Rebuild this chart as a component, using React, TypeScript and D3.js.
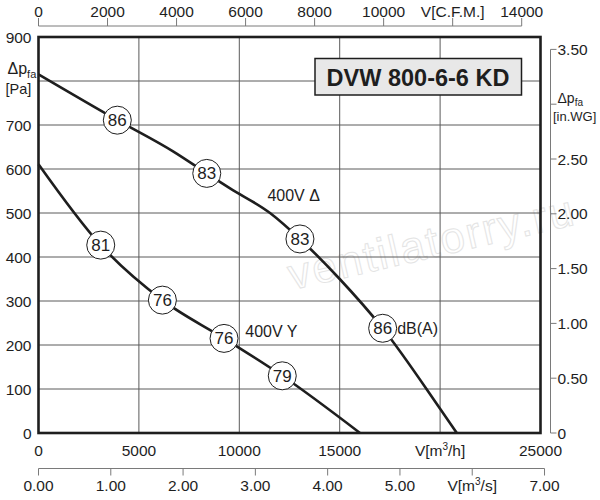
import React from 'react'
import * as d3 from 'd3'

// 400V Δ curve (m3/h, Pa)
const flowDelta = [0, 3925, 6700, 8380, 9540, 11530, 13020, 15000, 17140, 20000, 20830]
const pressDelta = [815, 711, 640, 590, 556, 500, 441, 350, 238, 55, 0]
// 400V Y curve
const flowStar = [0, 3100, 6170, 9240, 12140, 16010]
const pressStar = [611, 427, 302, 215, 130, 0]

// noise markers dB(A)
const markFlowDelta = [3925, 8380, 13020, 17140]
const markPressDelta = [711, 590, 441, 238]
const markDbDelta = [86, 83, 83, 86]
const markFlowStar = [3100, 6170, 9240, 12140]
const markPressStar = [427, 302, 215, 130]
const markDbStar = [81, 76, 76, 79]

const flowTicks = [0, 5000, 10000, 15000, 20000, 25000]
const flowLabels = ['0', '5000', '10000', '15000', 'V[m³/h]', '25000']
const paTicks = [0, 100, 200, 300, 400, 500, 600, 700, 800, 900]
const paLabels = ['0', '100', '200', '300', '400', '500', '600', '700', '', '900']
const cfmTicks = [0, 2000, 4000, 6000, 8000, 10000, 12000, 14000]
const cfmLabels = ['0', '2000', '4000', '6000', '8000', '10000', 'V[C.F.M.]', '14000']
const m3sTicks = [0, 1, 2, 3, 4, 5, 6, 7]
const m3sLabels = ['0.00', '1.00', '2.00', '3.00', '4.00', '5.00', 'V[m³/s]', '7.00']
const inwgTicks = [0, 0.5, 1, 1.5, 2, 2.5, 3, 3.5]
const inwgLabels = ['0', '0.50', '1.00', '1.50', '2.00', '2.50', '', '3.50']

const FONT = '"Liberation Sans", Arial, Helvetica, sans-serif'

export default function App() {
  const left = 38.5
  const top = 37
  const W = 502
  const H = 396

  const x = d3.scaleLinear().domain([0, 25000]).range([0, W])
  const y = d3.scaleLinear().domain([0, 900]).range([H, 0])
  const xCfm = d3.scaleLinear().domain([0, 14545]).range([0, W])
  const xM3s = d3.scaleLinear().domain([0, 25000 / 3600]).range([0, W])
  const yIn = d3.scaleLinear().domain([0, 900 / 249.09]).range([H, 0])

  const line = d3
    .line<[number, number]>()
    .x(d => x(d[0]))
    .y(d => y(d[1]))
    .curve(d3.curveMonotoneX)

  const deltaPath = line(flowDelta.map((f, i) => [f, pressDelta[i]])) ?? ''
  const starPath = line(flowStar.map((f, i) => [f, pressStar[i]])) ?? ''

  const markers = [
    ...markFlowDelta.map((f, i) => ({ f, p: markPressDelta[i], db: markDbDelta[i] })),
    ...markFlowStar.map((f, i) => ({ f, p: markPressStar[i], db: markDbStar[i] })),
  ]

  const gridCol = '#5a5a5a'
  const axisCol = '#7a7a7a'
  const ink = '#1e1e1e'

  return (
    <svg
      width={600}
      height={500}
      style={{ position: 'absolute', left: 0, top: 0, background: '#fff' }}
      fontFamily={FONT}
    >
      <rect width={600} height={500} fill="#fff" />

      {/* top CFM axis */}
      <g transform={`translate(${left},26)`}>
        <line x1={0} x2={xCfm(14000)} y1={0} y2={0} stroke={axisCol} strokeWidth={1} />
        {cfmTicks.map((t, i) => (
          <g key={t} transform={`translate(${xCfm(t)},0)`}>
            <line y1={0} y2={-8} stroke={axisCol} strokeWidth={1} />
            <text y={-9.5} textAnchor="middle" fontSize={15.5} fill={ink}>
              {cfmLabels[i]}
            </text>
          </g>
        ))}
      </g>

      {/* watermark */}
      <text
        transform="translate(292,290) rotate(-13)"
        fontSize={44}
        letterSpacing={2}
        fill="#fff"
        stroke="#e4e4e4"
        strokeWidth={1}
      >
        ventilatorry.ru
      </text>

      <g transform={`translate(${left},${top})`}>
        {/* grid */}
        {flowTicks.slice(1, -1).map(t => (
          <line key={t} x1={x(t)} x2={x(t)} y1={0} y2={H} stroke={gridCol} strokeWidth={1} />
        ))}
        {paTicks.slice(1, -1).map(t => (
          <line key={t} x1={0} x2={W} y1={y(t)} y2={y(t)} stroke={gridCol} strokeWidth={1} />
        ))}

        {/* curves */}
        <path d={deltaPath} fill="none" stroke={ink} strokeWidth={2.6} />
        <path d={starPath} fill="none" stroke={ink} strokeWidth={2.6} />

        {/* frame */}
        <rect x={0} y={0} width={W} height={H} fill="none" stroke={ink} strokeWidth={2.6} />

        {/* markers */}
        {markers.map((m, i) => (
          <g key={i} transform={`translate(${x(m.f)},${y(m.p)})`}>
            <circle r={14} fill="#fff" stroke={ink} strokeWidth={1} />
            <text y={6} textAnchor="middle" fontSize={17} fill={ink}>
              {m.db}
            </text>
          </g>
        ))}

        {/* curve labels */}
        <text x={x(11400)} y={y(518) - 4} fontSize={16} fill={ink}>
          400V Δ
        </text>
        <text x={x(10300)} y={y(225) + 3} fontSize={16} fill={ink}>
          400V Y
        </text>
        <text x={x(17140) + 14.5} y={y(238) + 6} fontSize={16} fill={ink}>
          dB(A)
        </text>

        {/* left axis labels */}
        {paTicks.map((t, i) => (
          <text key={t} x={-7} y={y(t) + 5.5} textAnchor="end" fontSize={15.5} fill={ink}>
            {paLabels[i]}
          </text>
        ))}
        <text x={-31} y={y(800) - 7} fontSize={16} fill={ink}>
          Δp
          <tspan fontSize={11} dy={4}>
            fa
          </tspan>
        </text>
        <text x={-33} y={y(800) + 13} fontSize={14.5} fill={ink}>
          [Pa]
        </text>

        {/* bottom m3/h labels */}
        {flowTicks.map((t, i) => (
          <text key={t} x={x(t)} y={H + 23} textAnchor="middle" fontSize={15.5} fill={ink}>
            {flowLabels[i].includes('³') ? (
              <>
                V[m<tspan fontSize={10} dy={-6}>3</tspan>
                <tspan dy={6}>/h]</tspan>
              </>
            ) : (
              flowLabels[i]
            )}
          </text>
        ))}
      </g>

      {/* bottom m3/s axis */}
      <g transform={`translate(${left},468.5)`}>
        <line x1={0} x2={xM3s(7)} y1={0} y2={0} stroke={axisCol} strokeWidth={1} />
        {m3sTicks.map((t, i) => (
          <g key={t} transform={`translate(${xM3s(t)},0)`}>
            <line y1={0} y2={7} stroke={axisCol} strokeWidth={1} />
            <text y={22} textAnchor="middle" fontSize={15.5} fill={ink}>
              {m3sLabels[i].includes('³') ? (
                <>
                  V[m<tspan fontSize={10} dy={-6}>3</tspan>
                  <tspan dy={6}>/s]</tspan>
                </>
              ) : (
                m3sLabels[i]
              )}
            </text>
          </g>
        ))}
      </g>

      {/* right in.WG axis */}
      <g transform={`translate(550.5,${top})`}>
        <line x1={0} x2={0} y1={yIn(3.5)} y2={H} stroke={axisCol} strokeWidth={1} />
        {inwgTicks.map((t, i) => (
          <g key={t} transform={`translate(0,${yIn(t)})`}>
            <line x1={0} x2={6} stroke={axisCol} strokeWidth={1} />
            <text x={7} y={5.5} fontSize={15.5} fill={ink}>
              {inwgLabels[i]}
            </text>
          </g>
        ))}
        <text x={7} y={yIn(3) - 1} fontSize={14} fill={ink}>
          Δp
          <tspan fontSize={10} dy={3}>
            fa
          </tspan>
        </text>
        <text x={2.5} y={yIn(3) + 17} fontSize={13} fill={ink}>
          [in.WG]
        </text>
      </g>

      {/* title box */}
      <rect x={315} y={58.5} width={206.5} height={36.5} fill="#e8e8e8" stroke={ink} strokeWidth={1.5} />
      <text x={418} y={85.5} textAnchor="middle" fontSize={23.5} fontWeight="bold" fill={ink}>
        DVW 800-6-6 KD
      </text>
    </svg>
  )
}
